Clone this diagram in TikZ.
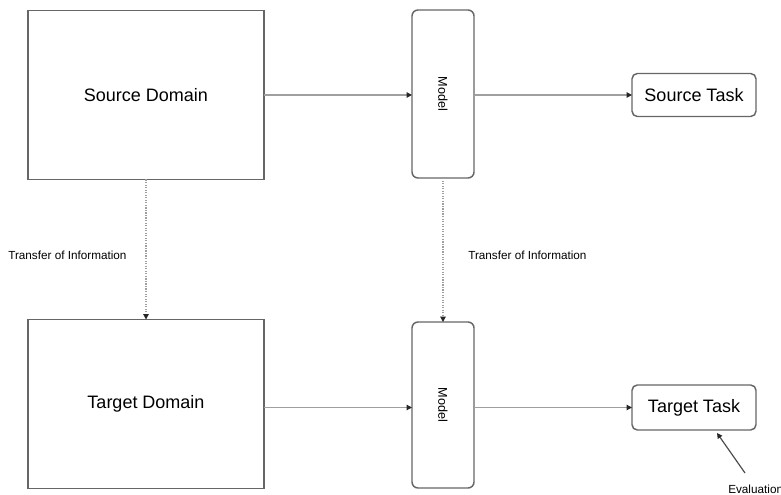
\documentclass[tikz,border=0pt]{standalone}
\usepackage{fontspec}
\setmainfont{Liberation Sans}
\usetikzlibrary{arrows.meta}
\begin{document}
\begin{tikzpicture}[x=0.75pt,y=-0.75pt,
  dom/.style={draw=gray!80!black,line width=1.1pt,minimum width=177pt,minimum height=126.75pt,inner sep=0pt,outer sep=0pt,font=\fontsize{13.5}{16}\selectfont},
  mdl/.style={draw=gray!80!black,line width=1.1pt,rounded corners=4.5pt,minimum width=46.5pt,inner sep=0pt,outer sep=0pt},
  mtext/.style={rotate=-90,font=\fontsize{9.5}{11}\selectfont},
  task/.style={draw=gray!80!black,line width=1.1pt,rounded corners=4pt,minimum width=93pt,inner sep=0pt,outer sep=0pt,font=\fontsize{13.5}{16}\selectfont},
  lbl/.style={font=\fontsize{8.8}{10}\selectfont,inner sep=0pt,anchor=west},
  conn/.style={draw=gray!75,line width=0.9pt,-{Triangle[length=4pt,width=4pt,fill=black!85,color=black!85]}},
  dconn/.style={conn,densely dotted},
]
\useasboundingbox (0,0) rectangle (781,495);
\node[dom] (sd) at (146,95) {Source Domain};
\node[dom] (td) at (146,404) {Target Domain};
\node[mdl,minimum height=126pt] (m1) at (443,94) {};
\node[mtext] at (m1) {Model};
\node[mdl,minimum height=124.5pt] (m2) at (443,405) {};
\node[mtext] at (m2) {Model};
\node[task,minimum height=32.25pt] (st) at (694,95) {Source Task};
\node[task,minimum height=33.75pt] (tt) at (694,407.5) {Target Task};
\node[lbl] (l1) at (8,255) {Transfer of Information};
\node[lbl] (l2) at (468,255) {Transfer of Information};
\node[lbl] (ev) at (728,489) {Evaluation};
\coordinate (evs) at (745,473);
\coordinate (evt) at (717,433);
\draw[conn] (sd.east) -- (sd.east -| m1.west);
\draw[conn] (m1.east |- st.west) -- (st.west);
\draw[conn] (td.east |- tt.west) -- (m2.west |- tt.west);
\draw[conn] (m2.east |- tt.west) -- (tt.west);
\draw[dconn] (sd.south) -- (td.north);
\draw[dconn] (m1.south) -- (m2.north);
\draw[conn,draw=black!70] (evs) -- (evt);
\end{tikzpicture}
\end{document}
